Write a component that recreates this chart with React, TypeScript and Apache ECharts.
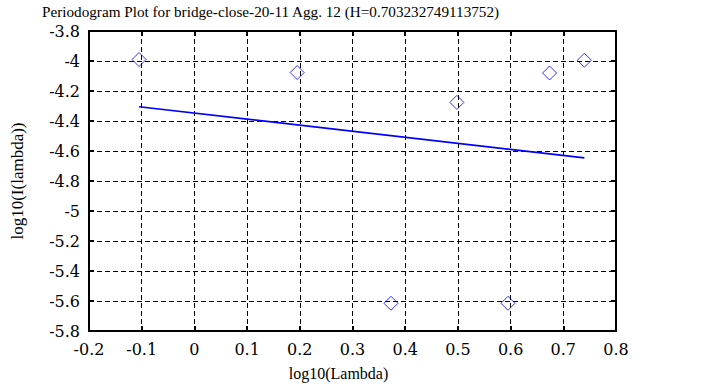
import React, { useEffect, useRef } from "react";
import * as echarts from "echarts";

const titleText = "Periodogram Plot for bridge-close-20-11 Agg. 12 (H=0.703232749113752)";
const xName = "log10(Lambda)";
const yName = "log10(I(lambda))";
const pointX = [-0.105, 0.195, 0.498, 0.674, 0.74, 0.373, 0.595];
const pointY = [-3.99, -4.077, -4.276, -4.08, -3.995, -5.615, -5.615];
const fitX = [-0.105, 0.74];
const fitY = [-4.305, -4.646];

const fmt = (v: number) => String(parseFloat(v.toFixed(1)));
const SERIF = "'Liberation Serif', 'Times New Roman', serif";
const TICKFONT = "'DejaVu Serif', serif";

export default function App() {
  const ref = useRef<HTMLDivElement>(null);
  useEffect(() => {
    if (!ref.current) return;
    const chart = echarts.init(ref.current, null, { renderer: "svg" });
    const gridLine = { show: true, lineStyle: { color: "#000", type: [5, 3] as any, width: 1 } };
    const axisLine = { show: true, onZero: false, lineStyle: { color: "#000", width: 2 } };
    const tick = { show: true, inside: true, length: 5, lineStyle: { color: "#000", width: 2 } };
    const label = { color: "#000", fontFamily: TICKFONT, fontSize: 16 };
    chart.setOption({
      animation: false,
      backgroundColor: "#fff",
      title: {
        text: titleText,
        left: 37,
        top: -1,
        textStyle: { fontFamily: SERIF, fontSize: 15.2, fontWeight: "normal", color: "#000" },
      },
      grid: { left: 89, right: 89, top: 31, bottom: 56, containLabel: false },
      xAxis: [
        {
          type: "value", min: -0.2, max: 0.8, interval: 0.1, position: "bottom",
          name: xName, nameLocation: "middle", nameGap: 34,
          nameTextStyle: { fontFamily: SERIF, fontSize: 16, color: "#000", padding: [0, 28, 0, 0] },
          axisLine, axisTick: tick, splitLine: gridLine,
          axisLabel: { ...label, margin: 10, formatter: fmt },
        },
        {
          type: "value", min: -0.2, max: 0.8, interval: 0.1, position: "top",
          axisLine, axisTick: tick, splitLine: { show: false }, axisLabel: { show: false },
        },
      ],
      yAxis: [
        {
          type: "value", min: -5.8, max: -3.8, interval: 0.2, position: "left",
          name: yName, nameLocation: "middle", nameGap: 63,
          nameTextStyle: { fontFamily: SERIF, fontSize: 17, color: "#000" },
          axisLine, axisTick: tick, splitLine: gridLine,
          axisLabel: { ...label, margin: 9, formatter: fmt },
        },
        {
          type: "value", min: -5.8, max: -3.8, interval: 0.2, position: "right",
          axisLine, axisTick: tick, splitLine: { show: false }, axisLabel: { show: false },
        },
      ],
      series: [
        {
          type: "scatter",
          data: pointX.map((x, i) => [x, pointY[i]]),
          symbol: "diamond",
          symbolSize: [14, 14],
          itemStyle: { color: "transparent", borderColor: "#0000ff", borderWidth: 1 },
          z: 3,
        },
        {
          type: "line",
          data: fitX.map((x, i) => [x, fitY[i]]),
          showSymbol: false,
          lineStyle: { color: "#0000ff", width: 1.7 },
          z: 2,
        },
      ],
    });
    return () => chart.dispose();
  }, []);
  return <div ref={ref} style={{ width: 705, height: 387, position: "absolute", left: 0, top: 0 }} />;
}
